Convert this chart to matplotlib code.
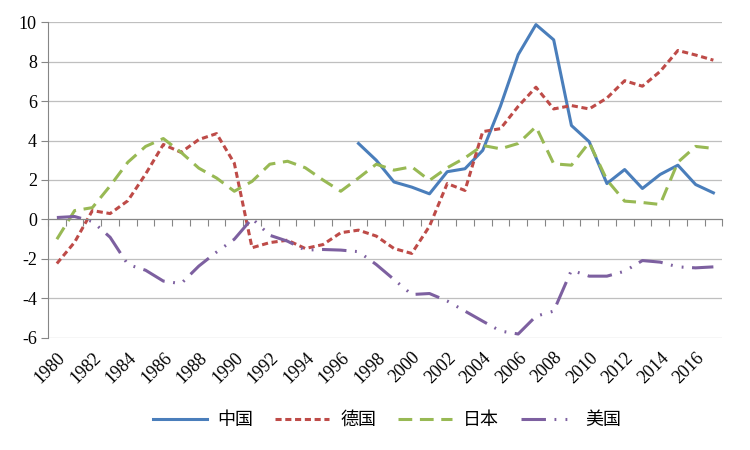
import matplotlib.pyplot as plt
import numpy as np

plt.rcParams['font.family'] = ['Liberation Serif', 'Noto Sans CJK SC', 'DejaVu Sans']
plt.rcParams['axes.unicode_minus'] = False

years = list(range(1980, 2018))
nan = np.nan

# 中国 (data starts 1997)
china = [nan] * 17 + [3.85, 3.0, 1.9, 1.64, 1.3, 2.42, 2.57, 3.5, 5.74, 8.35, 9.87, 9.1,
                      4.76, 3.94, 1.82, 2.53, 1.57, 2.28, 2.75, 1.77, 1.35]
germany = [-2.23, -1.15, 0.45, 0.3, 0.95, 2.3, 3.8, 3.4, 4.05, 4.35, 2.85, -1.43, -1.17,
           -1.05, -1.47, -1.27, -0.67, -0.54, -0.84, -1.47, -1.72, -0.34, 1.82, 1.47,
           4.45, 4.6, 5.73, 6.7, 5.6, 5.77, 5.6, 6.15, 7.03, 6.75, 7.5, 8.56, 8.33, 8.07]
japan = [-1.0, 0.45, 0.6, 1.7, 2.9, 3.7, 4.1, 3.4, 2.6, 2.1, 1.43, 1.93, 2.8, 2.95, 2.62,
         2.0, 1.43, 2.1, 2.8, 2.5, 2.67, 1.98, 2.62, 3.12, 3.75, 3.58, 3.85, 4.7, 2.82,
         2.75, 3.9, 2.0, 0.93, 0.86, 0.76, 2.9, 3.7, 3.6]
usa = [0.1, 0.15, -0.1, -0.9, -2.28, -2.57, -3.12, -3.25, -2.36, -1.65, -1.0, 0.05, -0.8,
       -1.1, -1.55, -1.52, -1.55, -1.63, -2.28, -3.04, -3.8, -3.75, -4.13, -4.64, -5.15,
       -5.65, -5.8, -4.9, -4.64, -2.57, -2.87, -2.87, -2.62, -2.08, -2.16, -2.4, -2.45, -2.4]

x = np.arange(len(years))

fig = plt.figure(figsize=(7.5, 4.5), dpi=100)
ax = fig.add_axes([0.064, 0.249, 0.899, 0.702])

lw = 2.2
ax.plot(x, china, color='#4A7EBB', lw=lw, label='中国')
ax.plot(x, germany, color='#BE4B48', lw=lw, dashes=(2.0, 1.2), label='德国')
ax.plot(x, japan, color='#98B954', lw=lw, dashes=(4.5, 2.5), label='日本')
ax.plot(x, usa, color='#7D60A0', lw=lw, dashes=(8, 2.8, 0.6, 3.0, 0.6, 2.8), label='美国')

ax.set_xlim(-0.5, len(years) - 0.5)
ax.set_ylim(-6, 10)
ax.set_yticks(np.arange(-6, 11, 2))
ax.yaxis.grid(True, color='#BFBFBF', lw=0.9)
ax.set_axisbelow(True)
ax.tick_params(axis='y', length=5, color='#868686', labelsize=13, pad=3)

for s in ['top', 'right']:
    ax.spines[s].set_visible(False)
ax.spines['left'].set_color('#868686')
ax.spines['bottom'].set_position(('data', 0))
ax.spines['bottom'].set_color('#868686')
ax.set_xticks(np.arange(-0.5, len(years), 1))
ax.tick_params(axis='x', length=5, color='#868686', labelbottom=False)

sec = ax.secondary_xaxis(0)
sec.set_xticks(x[::2])
sec.set_xticklabels([str(y) for y in years[::2]], rotation=45, ha='right',
                    rotation_mode='anchor', fontsize=13)
sec.tick_params(length=0, pad=8)
sec.spines['bottom'].set_visible(False)

fig.legend(loc='center', bbox_to_anchor=(0.516, 0.065), ncol=4, frameon=False,
           fontsize=13, handlelength=3.0, columnspacing=1.2, handletextpad=0.6)

plt.savefig('out.png')
